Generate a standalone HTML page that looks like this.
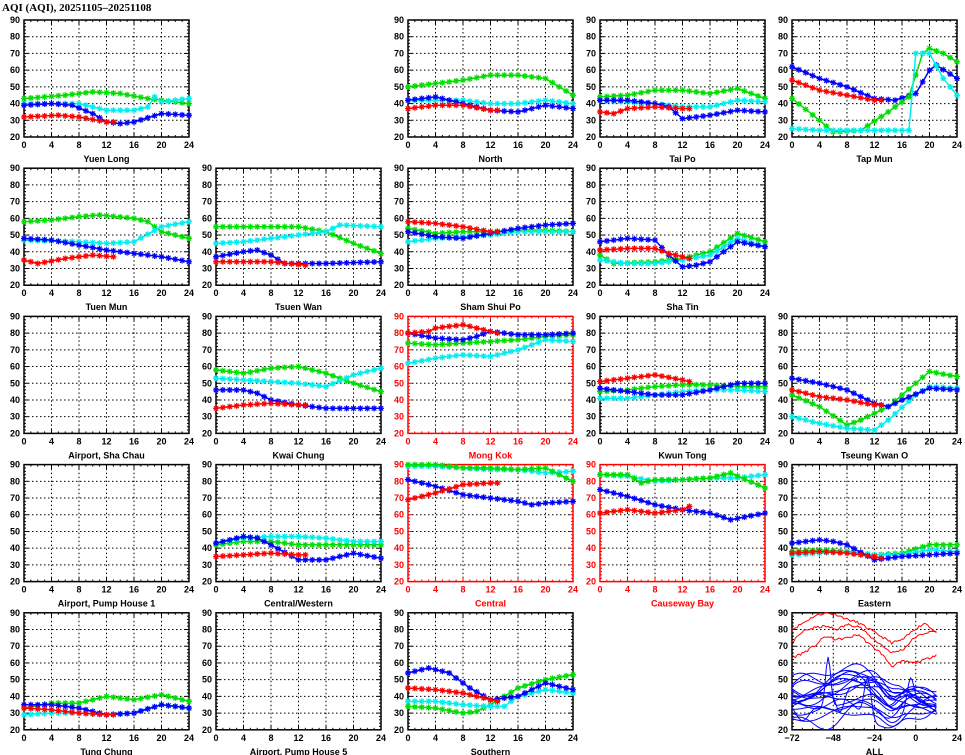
<!DOCTYPE html>
<html><head><meta charset="utf-8">
<style>
html,body{margin:0;padding:0;background:#fff;}
svg{display:block;}
text{font-family:"Liberation Sans",sans-serif;font-weight:bold;font-size:9px;}
</style></head>
<body>
<svg id="s" width="965" height="755" xmlns="http://www.w3.org/2000/svg">
<text x="2" y="11" style="font-size:11px;font-weight:bold;font-family:'Liberation Serif',serif">AQI (AQI), 20251105–20251108</text>
</svg>
<script>
const R='#ff0000',G='#00dd00',B='#0000ff',C='#00eeee';
const P=[
["Yuen Long",0,0,0,[[G,[[0,43],[6,45],[10,47],[14,46],[18,43],[20,42],[24,40]]],[C,[[0,40],[8,40],[12,36],[16,36],[18,38],[19,44],[20,41],[24,43]]],[B,[[0,39],[4,40],[7,39],[10,34],[12,29],[14,28],[16,29],[20,34],[24,33]]],[R,[[0,32],[5,33],[8,32],[12,29],[13,29]]]]],
["North",0,2,0,[[G,[[0,50],[4,52],[8,54],[12,57],[16,57],[20,55],[24,45]]],[C,[[0,42],[8,42],[12,40],[16,40],[20,42],[24,40]]],[B,[[0,42],[4,44],[8,40],[12,36],[16,35],[20,39],[24,37]]],[R,[[0,37],[4,39],[8,39],[12,36],[13,36]]]]],
["Tai Po",0,3,0,[[G,[[0,44],[4,45],[8,48],[12,48],[16,46],[20,49],[24,43]]],[C,[[0,42],[8,40],[12,38],[16,38],[20,42],[24,41]]],[B,[[0,42],[4,42],[8,40],[10,38],[12,31],[16,33],[20,36],[24,35]]],[R,[[0,35],[2,34],[4,37],[8,38],[12,37],[13,37]]]]],
["Tap Mun",0,4,0,[[B,[[0,62],[4,55],[8,50],[12,43],[15,42],[18,46],[20,60],[21,63],[24,55]]],[R,[[0,54],[4,48],[8,45],[12,42],[13,42]]],[G,[[0,43],[4,30],[6,23],[10,24],[14,35],[17,44],[19,70],[20,73],[22,70],[24,65]]],[C,[[0,25],[4,24],[8,24],[17,24],[18,70],[20,70],[22,55],[24,45]]]]],
["Tuen Mun",1,0,0,[[G,[[0,58],[4,59],[8,61],[11,62],[16,60],[18,58],[20,52],[24,48]]],[C,[[0,47],[8,46],[12,45],[16,46],[20,55],[24,58]]],[B,[[0,48],[4,47],[8,44],[12,41],[16,39],[20,37],[24,34]]],[R,[[0,35],[2,33],[6,36],[10,38],[13,37]]]]],
["Tsuen Wan",1,1,0,[[G,[[0,55],[4,55],[8,55],[12,55],[16,52],[20,45],[24,39]]],[C,[[0,45],[4,46],[8,48],[12,50],[16,52],[18,56],[24,55]]],[B,[[0,37],[4,40],[6,41],[8,38],[10,33],[16,33],[24,34]]],[R,[[0,34],[8,34],[13,32]]]]],
["Sham Shui Po",1,2,0,[[G,[[0,54],[4,51],[8,52],[12,52],[16,53],[20,53],[24,52]]],[C,[[0,46],[4,48],[8,49],[12,50],[16,52],[20,52],[24,52]]],[B,[[0,52],[4,49],[8,48],[12,51],[16,54],[20,56],[24,57]]],[R,[[0,58],[4,57],[8,55],[12,52],[13,52]]]]],
["Sha Tin",1,3,0,[[G,[[0,38],[2,33],[8,34],[12,36],[16,40],[20,51],[24,46]]],[C,[[0,35],[4,33],[8,33],[12,35],[16,38],[20,48],[24,43]]],[B,[[0,46],[4,48],[8,47],[10,38],[12,31],[14,32],[16,34],[20,46],[24,43]]],[R,[[0,41],[4,42],[8,42],[10,39],[12,37],[13,36]]]]],
["Airport, Sha Chau",2,0,0,[]],
["Kwai Chung",2,1,0,[[G,[[0,58],[4,56],[8,59],[12,60],[16,56],[20,50],[24,45]]],[C,[[0,53],[4,52],[8,51],[12,50],[16,48],[20,55],[24,59]]],[B,[[0,46],[4,46],[6,44],[8,40],[12,37],[16,35],[24,35]]],[R,[[0,35],[4,37],[8,38],[12,37],[13,37]]]]],
["Mong Kok",2,2,1,[[G,[[0,74],[4,73],[8,74],[12,75],[16,76],[20,78],[24,79]]],[C,[[0,62],[4,65],[8,67],[12,66],[16,70],[20,76],[24,75]]],[B,[[0,80],[4,77],[8,76],[10,78],[12,81],[16,79],[20,79],[24,80]]],[R,[[0,80],[3,81],[4,83],[8,85],[12,81],[13,80]]]]],
["Kwun Tong",2,3,0,[[G,[[0,45],[4,46],[8,48],[12,49],[16,49],[20,48],[24,48]]],[C,[[0,41],[4,41],[8,43],[12,45],[16,46],[20,46],[24,45]]],[B,[[0,47],[4,45],[8,43],[12,43],[16,46],[20,50],[24,50]]],[R,[[0,51],[4,53],[8,55],[12,52],[13,51]]]]],
["Tseung Kwan O",2,4,0,[[G,[[0,43],[4,36],[8,25],[10,28],[14,36],[18,50],[20,57],[24,54]]],[C,[[0,30],[4,26],[8,23],[12,22],[14,28],[18,43],[20,48],[24,47]]],[B,[[0,53],[4,50],[8,46],[12,38],[14,36],[16,40],[20,47],[24,46]]],[R,[[0,46],[4,42],[8,40],[12,37],[13,37]]]]],
["Airport, Pump House 1",3,0,0,[]],
["Central/Western",3,1,0,[[G,[[0,42],[4,44],[8,44],[12,42],[16,42],[20,42],[24,42]]],[C,[[0,43],[4,46],[8,47],[12,47],[16,46],[20,44],[24,44]]],[B,[[0,43],[4,47],[6,46],[8,42],[12,33],[16,33],[20,37],[24,34]]],[R,[[0,35],[4,36],[8,37],[12,36],[13,36]]]]],
["Central",3,2,1,[[C,[[0,89],[4,89],[8,88],[12,87],[16,87],[20,85],[24,86]]],[G,[[0,90],[4,90],[8,88],[12,88],[16,87],[20,88],[24,80]]],[B,[[0,81],[4,77],[8,72],[12,70],[16,68],[18,66],[20,67],[24,68]]],[R,[[0,69],[4,73],[8,78],[12,79],[13,79]]]]],
["Causeway Bay",3,3,1,[[C,[[0,84],[4,83],[8,80],[12,81],[16,82],[20,82],[24,84]]],[G,[[0,84],[4,84],[6,79],[8,81],[12,81],[16,82],[19,85],[24,76]]],[B,[[0,75],[4,71],[8,66],[12,63],[16,61],[19,57],[24,61]]],[R,[[0,61],[4,63],[8,61],[12,63],[13,65]]]]],
["Eastern",3,4,0,[[G,[[0,38],[4,39],[8,38],[12,36],[16,37],[20,42],[24,42]]],[C,[[0,36],[4,37],[8,38],[12,36],[16,36],[20,39],[24,38]]],[B,[[0,43],[4,45],[6,44],[8,42],[12,33],[16,35],[20,36],[24,37]]],[R,[[0,37],[4,38],[8,37],[12,35],[13,34]]]]],
["Tung Chung",4,0,0,[[G,[[0,33],[4,36],[8,36],[12,40],[16,38],[20,41],[24,37]]],[C,[[0,29],[4,30],[8,30],[12,29],[16,30],[20,35],[24,33]]],[B,[[0,35],[4,35],[8,33],[12,29],[16,30],[20,35],[24,33]]],[R,[[0,33],[4,32],[8,30],[12,29],[13,29]]]]],
["Airport, Pump House 5",4,1,0,[]],
["Southern",4,2,0,[[G,[[0,34],[4,33],[8,30],[10,31],[12,35],[16,45],[20,50],[24,53]]],[C,[[0,37],[4,37],[8,35],[12,34],[14,34],[16,40],[20,44],[24,42]]],[B,[[0,54],[3,57],[6,54],[9,45],[12,38],[16,40],[20,48],[24,44]]],[R,[[0,45],[4,44],[8,42],[12,38],[13,37]]]]],
];
const svg=document.getElementById('s');let h='';
const W=165,H=117;
function interp(pts,x){for(let i=0;i<pts.length-1;i++){if(x>=pts[i][0]&&x<=pts[i+1][0]){const t=(x-pts[i][0])/(pts[i+1][0]-pts[i][0]);return pts[i][1]+t*(pts[i+1][1]-pts[i][1]);}}return null;}
function star(x,y,c){const s=3;return `<path d="M${x-s} ${y}h${2*s}M${x} ${y-s}v${2*s}M${x-2.2} ${y-2.2}l4.4 4.4M${x-2.2} ${y+2.2}l4.4 -4.4" stroke="${c}" stroke-width="1.2"/>`;}
function frame(L,T,red,name,xlab){const col=red?R:'#000';let o='';
 for(let v=30;v<90;v+=10){const y=T+(90-v)*H/70;o+=`<line x1="${L}" x2="${L+W}" y1="${y}" y2="${y}" stroke="#000" stroke-width="1" stroke-dasharray="1.5,2.5"/>`;}
 for(let i=1;i<xlab.length-1;i++){const x=L+i*W/(xlab.length-1);o+=`<line x1="${x}" x2="${x}" y1="${T}" y2="${T+H}" stroke="#000" stroke-width="1" stroke-dasharray="1.5,2.5"/>`;}
 for(let v=20;v<=90;v+=2){const y=T+(90-v)*H/70,l=v%10==0?4:2;o+=`<line x1="${L}" x2="${L+l}" y1="${y}" y2="${y}" stroke="${col}"/><line x1="${L+W-l}" x2="${L+W}" y1="${y}" y2="${y}" stroke="${col}"/>`;}
 const nm=(xlab.length-1)*4;for(let i=0;i<=nm;i++){const x=L+i*W/nm,l=i%4==0?4:2;o+=`<line x1="${x}" x2="${x}" y1="${T+H-l}" y2="${T+H}" stroke="${col}"/><line x1="${x}" x2="${x}" y1="${T}" y2="${T+l}" stroke="${col}"/>`;}
 o+=`<rect x="${L}" y="${T}" width="${W}" height="${H}" fill="none" stroke="${col}" stroke-width="1.5"/>`;
 for(let v=20;v<=90;v+=10){const y=T+(90-v)*H/70;o+=`<text x="${L-4}" y="${y+3}" text-anchor="end" fill="${col}">${v}</text>`;}
 xlab.forEach((t,i)=>{o+=`<text x="${L+i*W/(xlab.length-1)}" y="${T+H+11}" text-anchor="middle" fill="${col}">${t}</text>`;});
 o+=`<text x="${L+W/2}" y="${T+H+25}" text-anchor="middle" fill="${col}">${name}</text>`;return o;}
P.forEach(([name,r,c,red,ser])=>{const L=24+192*c,T=20+148.2*r;
 h+=frame(L,T,red,name,[0,4,8,12,16,20,24]);
 ser.forEach(([col,pts])=>{const end=pts[pts.length-1][0];let d='',m='';
  for(let x=0;x<=end;x+=0.5){const v=interp(pts,x);const px=L+x*W/24,py=T+(90-v)*H/70;d+=(x?'L':'M')+px.toFixed(1)+' '+py.toFixed(1);if(x%1==0)m+=star(px,py,col);}
  h+=`<path d="${d}" fill="none" stroke="${col}" stroke-width="1.5"/>`+m;});
});
// ALL panel
(function(){const L=792,T=20+148.2*4;h+=frame(L,T,0,'ALL',['\u221272','\u221248','\u221224','0','24']);
 let seed=11;const rnd=()=>{seed=(seed*16807)%2147483647;return seed/2147483647;};
 const X=x=>L+(x+72)*W/96,Y=v=>T+(90-Math.max(20,Math.min(90,v)))*H/70;
 const reds=[[80,84,88,90,89,86,84,80,76,72,74,80,84,78],[72,79,81,82,80,83,82,76,71,66,68,75,78,79],[63,66,70,76,74,75,77,71,66,58,61,60,62,65]];
 reds.forEach(a=>{let d='';for(let x=-72;x<=12;x++){const f=(x+72)/84*(a.length-1),i=Math.floor(f),t=f-i;const v=a[i]+(a[Math.min(i+1,a.length-1)]-a[i])*t+(rnd()-0.5)*1.5;d+=(x==-72?'M':'L')+X(x).toFixed(1)+' '+Y(v).toFixed(1);}h+=`<path d="${d}" fill="none" stroke="${R}" stroke-width="1"/>`;});
 const g=(x,c,w)=>Math.exp(-((x-c)*(x-c))/(2*w*w));
 for(let k=0;k<18;k++){const v=28+rnd()*22,a1=2+rnd()*5,p1=rnd()*6.28,a2=1+rnd()*3,p2=rnd()*6.28;
  const mid=8*rnd(),end=32+rnd()*8;let d='';
  for(let x=-72;x<=12;x++){
   let y=v+a1*Math.sin(x/14+p1)+a2*Math.sin(x/5+p2)+mid*g(x,-36,10)-6*g(x,-14,5)+(end-v)*Math.max(0,(x+10)/22)*0.8;
   if(k==2)y+=30*g(x,-51,1.5);if(k==5)y+=25*g(x,-28,2);if(k==7)y-=15*g(x,-44,2.5);if(k==9)y+=18*g(x,-3,2);if(k==11)y-=10*g(x,-66,4);
   d+=(x==-72?'M':'L')+X(x).toFixed(1)+' '+Y(y).toFixed(1);}
  h+=`<path d="${d}" fill="none" stroke="${B}" stroke-width="1"/>`;}
})();
svg.insertAdjacentHTML('beforeend',h);
</script>
</body></html>
